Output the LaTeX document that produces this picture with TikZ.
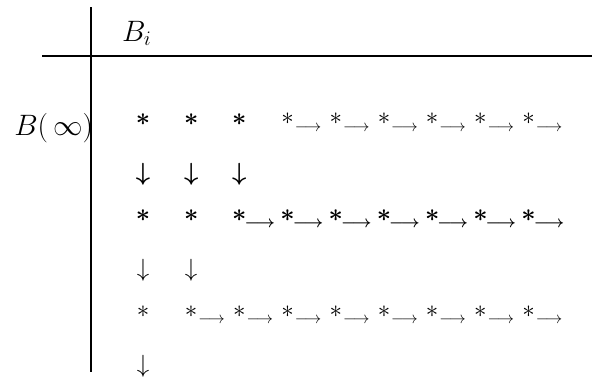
\RequirePackage{fix-cm}
\documentclass[tikz,border=0pt]{standalone}
\usepackage{amsmath}
\tikzset{
  glyph/.style={inner sep=0pt, outer sep=0pt, anchor=base, font=\fontsize{24.88}{30}\selectfont},
  bglyph/.style={glyph, font=\fontsize{24.88}{30}\selectfont\boldmath},
  lbl/.style={inner sep=0pt, outer sep=0pt, font=\fontsize{29.5}{35}\selectfont},
  sarr/.style={inner sep=0pt, outer sep=0pt, anchor=base, font=\fontsize{16.5}{20}\selectfont},
  bsarr/.style={sarr, font=\fontsize{16.5}{20}\selectfont\boldmath},
  rule/.style={line width=1.5pt}
}
\begin{document}
\begin{tikzpicture}[x=1pt,y=-1pt]
\useasboundingbox (0,0) rectangle (592,380);
% axes
\coordinate (vtop) at (91,7);
\coordinate (vbot) at (91,372);
\coordinate (hl) at (42,56);
\coordinate (hr) at (592,56);
\draw[rule] (vtop) -- (vbot);
\draw[rule] (hl) -- (hr);
% labels
\node[lbl, anchor=base west] (Bi) at (122,41) {$B_i$};
\node[lbl, anchor=base east] (Binf) at (93,135) {$B(\,\infty)$};
% row 1
\foreach \c in {0,1,2} {
  \node[bglyph] (r1s\c) at ({143+48.2*\c},{119+6.2}) {$\ast$};
  \node[bglyph] (d1\c) at ({143+48.2*\c},{174+6.2}) {$\downarrow$};
}
\foreach \c in {3,...,8} {
  \node[glyph] (r1s\c) at ({143+48.2*\c},{118+6.2}) {$\ast$};
  \node[sarr] (r1a\c) at ({143+48.2*\c+20.5},{127+4.1}) {$\longrightarrow$};
}
% row 2
\foreach \c in {0,1} {
  \node[bglyph] (r2s\c) at ({143+48.2*\c},{215+6.2}) {$\ast$};
  \node[glyph] (d2\c) at ({143+48.2*\c},{270+6.2}) {$\downarrow$};
}
\foreach \c in {2,...,8} {
  \node[bglyph] (r2s\c) at ({143+48.2*\c},{215+6.2}) {$\ast$};
  \node[bsarr] (r2a\c) at ({143+48.2*\c+20.5},{223+4.1}) {$\longrightarrow$};
}
% row 3
\node[glyph] (r3s0) at (143,{311+6.2}) {$\ast$};
\node[glyph] (d30) at (143,{366+6.2}) {$\downarrow$};
\foreach \c in {1,...,8} {
  \node[glyph] (r3s\c) at ({143+48.2*\c},{311+6.2}) {$\ast$};
  \node[sarr] (r3a\c) at ({143+48.2*\c+20.5},{319+4.1}) {$\longrightarrow$};
}
\end{tikzpicture}
\end{document}
